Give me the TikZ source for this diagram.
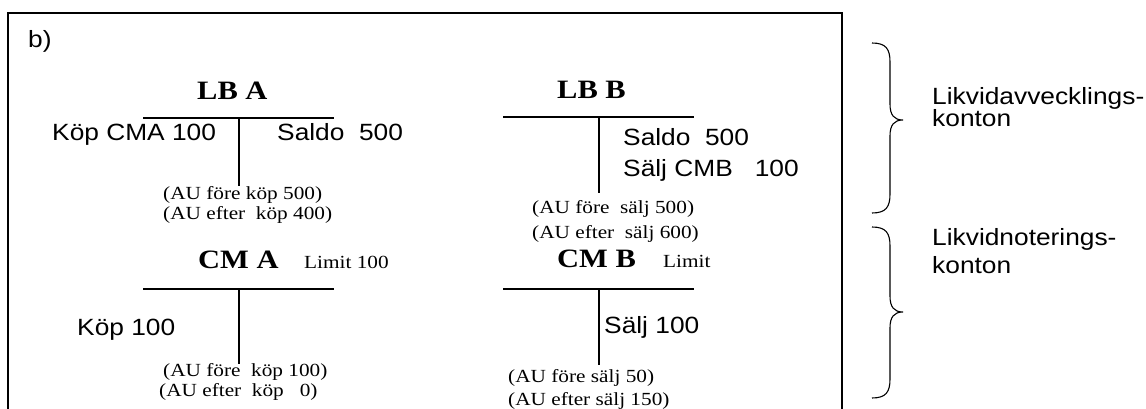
\documentclass[tikz,border=0pt]{standalone}
\usepackage{fontspec}
\setmainfont{Liberation Serif}[FakeStretch=1.15]
\newfontfamily\arialfont{Liberation Sans}[FakeStretch=1.12]
\begin{document}
\begin{tikzpicture}[x=1pt,y=-1pt,
  lbl/.style={inner sep=0pt,anchor=base west,font=\arialfont\fontsize{23.5}{27}\selectfont},
  head/.style={inner sep=0pt,anchor=base west,font=\bfseries\fontsize{26.5}{30}\selectfont},
  note/.style={inner sep=0pt,anchor=base west,font=\fontsize{18.5}{21}\selectfont},
  frame/.style={line width=1.8pt},
  tline/.style={line width=1.7pt},
  brace/.style={line width=1.1pt}]
\useasboundingbox (0,0) rectangle (1146,409);

% outer frame, open at the bottom
\coordinate (fbl) at (8,420);
\coordinate (ftl) at (8,13);
\coordinate (ftr) at (842,13);
\coordinate (fbr) at (842,420);
\draw[frame] (fbl) -- (ftl) -- (ftr) -- (fbr);

\node[lbl] (b) at (28,48) {b)};

% ---- LB A ----
\node[head] (lbaT) at (197,100) {LB A};
\coordinate (lbaL) at (143,118);
\coordinate (lbaR) at (334,118);
\coordinate (lbaM) at (239,118);
\coordinate (lbaF) at (239,186);
\draw[tline] (lbaL) -- (lbaR);
\draw[tline] (lbaM) -- (lbaF);
\node[lbl] (lbaD) at (52,141) {Köp CMA 100};
\node[lbl] (lbaC) at (277,141) {Saldo\ \ 500};
\node[note] (lbaN1) at (163,199) {(AU före köp 500)};
\node[note] (lbaN2) at (163,219) {(AU efter\ \ köp 400)};

% ---- CM A ----
\node[head] (cmaT) at (198,268) {CM A};
\node[note] (cmaLim) at (304,268) {Limit 100};
\coordinate (cmaL) at (143,289);
\coordinate (cmaR) at (334,289);
\coordinate (cmaM) at (239,289);
\coordinate (cmaF) at (239,364);
\draw[tline] (cmaL) -- (cmaR);
\draw[tline] (cmaM) -- (cmaF);
\node[lbl] (cmaD) at (77,335) {Köp 100};
\node[note] (cmaN1) at (163,376) {(AU före\ \ köp 100)};
\node[note] (cmaN2) at (159,396) {(AU efter\ \ köp\ \ \ 0)};

% ---- LB B ----
\node[head] (lbbT) at (557,99) {LB B};
\coordinate (lbbL) at (503,117);
\coordinate (lbbR) at (694,117);
\coordinate (lbbM) at (599,117);
\coordinate (lbbF) at (599,193);
\draw[tline] (lbbL) -- (lbbR);
\draw[tline] (lbbM) -- (lbbF);
\node[lbl] (lbbC1) at (623,146) {Saldo\ \ 500};
\node[lbl] (lbbC2) at (623,176) {Sälj CMB\ \ \ 100};
\node[note] (lbbN1) at (532,213) {(AU före\ \ sälj 500)};
\node[note] (lbbN2) at (532,238) {(AU efter\ \ sälj 600)};

% ---- CM B ----
\node[head] (cmbT) at (557,267) {CM B};
\node[note] (cmbLim) at (663,267) {Limit};
\coordinate (cmbL) at (503,289);
\coordinate (cmbR) at (694,289);
\coordinate (cmbM) at (599,289);
\coordinate (cmbF) at (599,365);
\draw[tline] (cmbL) -- (cmbR);
\draw[tline] (cmbM) -- (cmbF);
\node[lbl] (cmbC) at (604,333) {Sälj 100};
\node[note] (cmbN1) at (508,382) {(AU före sälj 50)};
\node[note] (cmbN2) at (508,405) {(AU efter sälj 150)};

% ---- braces and their captions ----
\draw[brace] (872,43) .. controls (886,43) and (890,49) .. (890,62)
  -- (890,104) .. controls (890,115) and (894,120) .. (903,120)
  .. controls (894,120) and (890,125) .. (890,136)
  -- (890,194) .. controls (890,207) and (886,213) .. (872,213);
\node[lbl] (br1a) at (932,105) {Likvidavvecklings-};
\node[lbl] (br1b) at (932,127) {konton};

\draw[brace] (872,227) .. controls (886,227) and (890,233) .. (890,246)
  -- (890,296) .. controls (890,307) and (894,312) .. (903,312)
  .. controls (894,312) and (890,317) .. (890,328)
  -- (890,379) .. controls (890,392) and (886,398) .. (872,398);
\node[lbl] (br2a) at (932,245) {Likvidnoterings-};
\node[lbl] (br2b) at (932,273) {konton};
\end{tikzpicture}
\end{document}
